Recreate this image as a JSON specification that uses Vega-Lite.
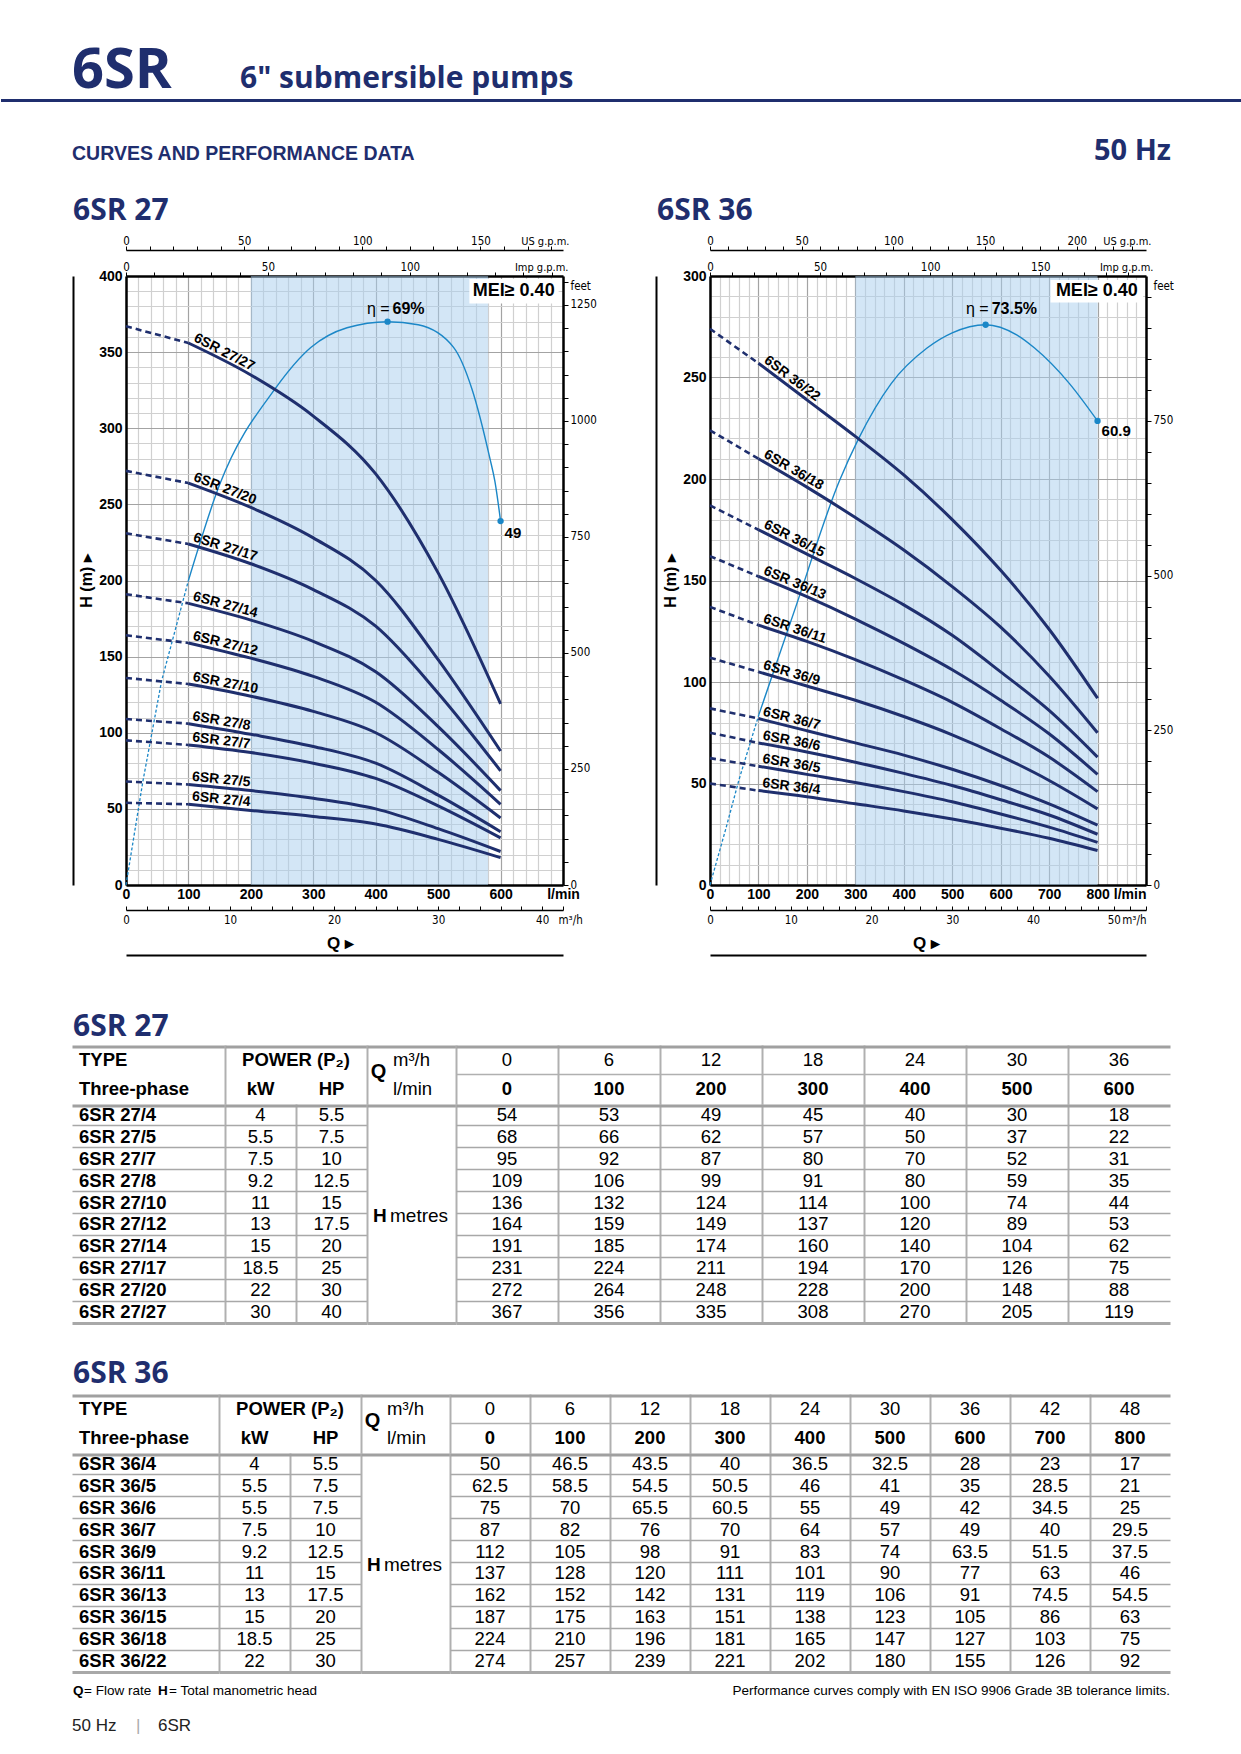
{
"$schema": "https://vega.github.io/schema/vega-lite/v6.json",
"padding": 0,
"background": "white",
"spacing": 0,
"resolve": {"scale": {"x": "independent", "y": "independent"}},
"config": {"view": {"stroke": null}, "concat": {"spacing": 0}, "font": "Liberation Sans"},
"datasets": {
"c27": [
{"t":"6SR 27/4","q":0,"h":54},{"t":"6SR 27/4","q":100,"h":53},{"t":"6SR 27/4","q":200,"h":49},{"t":"6SR 27/4","q":300,"h":45},{"t":"6SR 27/4","q":400,"h":40},{"t":"6SR 27/4","q":500,"h":30},{"t":"6SR 27/4","q":600,"h":18},
{"t":"6SR 27/5","q":0,"h":68},{"t":"6SR 27/5","q":100,"h":66},{"t":"6SR 27/5","q":200,"h":62},{"t":"6SR 27/5","q":300,"h":57},{"t":"6SR 27/5","q":400,"h":50},{"t":"6SR 27/5","q":500,"h":37},{"t":"6SR 27/5","q":600,"h":22},
{"t":"6SR 27/7","q":0,"h":95},{"t":"6SR 27/7","q":100,"h":92},{"t":"6SR 27/7","q":200,"h":87},{"t":"6SR 27/7","q":300,"h":80},{"t":"6SR 27/7","q":400,"h":70},{"t":"6SR 27/7","q":500,"h":52},{"t":"6SR 27/7","q":600,"h":31},
{"t":"6SR 27/8","q":0,"h":109},{"t":"6SR 27/8","q":100,"h":106},{"t":"6SR 27/8","q":200,"h":99},{"t":"6SR 27/8","q":300,"h":91},{"t":"6SR 27/8","q":400,"h":80},{"t":"6SR 27/8","q":500,"h":59},{"t":"6SR 27/8","q":600,"h":35},
{"t":"6SR 27/10","q":0,"h":136},{"t":"6SR 27/10","q":100,"h":132},{"t":"6SR 27/10","q":200,"h":124},{"t":"6SR 27/10","q":300,"h":114},{"t":"6SR 27/10","q":400,"h":100},{"t":"6SR 27/10","q":500,"h":74},{"t":"6SR 27/10","q":600,"h":44},
{"t":"6SR 27/12","q":0,"h":164},{"t":"6SR 27/12","q":100,"h":159},{"t":"6SR 27/12","q":200,"h":149},{"t":"6SR 27/12","q":300,"h":137},{"t":"6SR 27/12","q":400,"h":120},{"t":"6SR 27/12","q":500,"h":89},{"t":"6SR 27/12","q":600,"h":53},
{"t":"6SR 27/14","q":0,"h":191},{"t":"6SR 27/14","q":100,"h":185},{"t":"6SR 27/14","q":200,"h":174},{"t":"6SR 27/14","q":300,"h":160},{"t":"6SR 27/14","q":400,"h":140},{"t":"6SR 27/14","q":500,"h":104},{"t":"6SR 27/14","q":600,"h":62},
{"t":"6SR 27/17","q":0,"h":231},{"t":"6SR 27/17","q":100,"h":224},{"t":"6SR 27/17","q":200,"h":211},{"t":"6SR 27/17","q":300,"h":194},{"t":"6SR 27/17","q":400,"h":170},{"t":"6SR 27/17","q":500,"h":126},{"t":"6SR 27/17","q":600,"h":75},
{"t":"6SR 27/20","q":0,"h":272},{"t":"6SR 27/20","q":100,"h":264},{"t":"6SR 27/20","q":200,"h":248},{"t":"6SR 27/20","q":300,"h":228},{"t":"6SR 27/20","q":400,"h":200},{"t":"6SR 27/20","q":500,"h":148},{"t":"6SR 27/20","q":600,"h":88},
{"t":"6SR 27/27","q":0,"h":367},{"t":"6SR 27/27","q":100,"h":356},{"t":"6SR 27/27","q":200,"h":335},{"t":"6SR 27/27","q":300,"h":308},{"t":"6SR 27/27","q":400,"h":270},{"t":"6SR 27/27","q":500,"h":205},{"t":"6SR 27/27","q":600,"h":119}
],
"c36": [
{"t":"6SR 36/4","q":0,"h":50},{"t":"6SR 36/4","q":100,"h":46.5},{"t":"6SR 36/4","q":200,"h":43.5},{"t":"6SR 36/4","q":300,"h":40},{"t":"6SR 36/4","q":400,"h":36.5},{"t":"6SR 36/4","q":500,"h":32.5},{"t":"6SR 36/4","q":600,"h":28},{"t":"6SR 36/4","q":700,"h":23},{"t":"6SR 36/4","q":800,"h":17},
{"t":"6SR 36/5","q":0,"h":62.5},{"t":"6SR 36/5","q":100,"h":58.5},{"t":"6SR 36/5","q":200,"h":54.5},{"t":"6SR 36/5","q":300,"h":50.5},{"t":"6SR 36/5","q":400,"h":46},{"t":"6SR 36/5","q":500,"h":41},{"t":"6SR 36/5","q":600,"h":35},{"t":"6SR 36/5","q":700,"h":28.5},{"t":"6SR 36/5","q":800,"h":21},
{"t":"6SR 36/6","q":0,"h":75},{"t":"6SR 36/6","q":100,"h":70},{"t":"6SR 36/6","q":200,"h":65.5},{"t":"6SR 36/6","q":300,"h":60.5},{"t":"6SR 36/6","q":400,"h":55},{"t":"6SR 36/6","q":500,"h":49},{"t":"6SR 36/6","q":600,"h":42},{"t":"6SR 36/6","q":700,"h":34.5},{"t":"6SR 36/6","q":800,"h":25},
{"t":"6SR 36/7","q":0,"h":87},{"t":"6SR 36/7","q":100,"h":82},{"t":"6SR 36/7","q":200,"h":76},{"t":"6SR 36/7","q":300,"h":70},{"t":"6SR 36/7","q":400,"h":64},{"t":"6SR 36/7","q":500,"h":57},{"t":"6SR 36/7","q":600,"h":49},{"t":"6SR 36/7","q":700,"h":40},{"t":"6SR 36/7","q":800,"h":29.5},
{"t":"6SR 36/9","q":0,"h":112},{"t":"6SR 36/9","q":100,"h":105},{"t":"6SR 36/9","q":200,"h":98},{"t":"6SR 36/9","q":300,"h":91},{"t":"6SR 36/9","q":400,"h":83},{"t":"6SR 36/9","q":500,"h":74},{"t":"6SR 36/9","q":600,"h":63.5},{"t":"6SR 36/9","q":700,"h":51.5},{"t":"6SR 36/9","q":800,"h":37.5},
{"t":"6SR 36/11","q":0,"h":137},{"t":"6SR 36/11","q":100,"h":128},{"t":"6SR 36/11","q":200,"h":120},{"t":"6SR 36/11","q":300,"h":111},{"t":"6SR 36/11","q":400,"h":101},{"t":"6SR 36/11","q":500,"h":90},{"t":"6SR 36/11","q":600,"h":77},{"t":"6SR 36/11","q":700,"h":63},{"t":"6SR 36/11","q":800,"h":46},
{"t":"6SR 36/13","q":0,"h":162},{"t":"6SR 36/13","q":100,"h":152},{"t":"6SR 36/13","q":200,"h":142},{"t":"6SR 36/13","q":300,"h":131},{"t":"6SR 36/13","q":400,"h":119},{"t":"6SR 36/13","q":500,"h":106},{"t":"6SR 36/13","q":600,"h":91},{"t":"6SR 36/13","q":700,"h":74.5},{"t":"6SR 36/13","q":800,"h":54.5},
{"t":"6SR 36/15","q":0,"h":187},{"t":"6SR 36/15","q":100,"h":175},{"t":"6SR 36/15","q":200,"h":163},{"t":"6SR 36/15","q":300,"h":151},{"t":"6SR 36/15","q":400,"h":138},{"t":"6SR 36/15","q":500,"h":123},{"t":"6SR 36/15","q":600,"h":105},{"t":"6SR 36/15","q":700,"h":86},{"t":"6SR 36/15","q":800,"h":63},
{"t":"6SR 36/18","q":0,"h":224},{"t":"6SR 36/18","q":100,"h":210},{"t":"6SR 36/18","q":200,"h":196},{"t":"6SR 36/18","q":300,"h":181},{"t":"6SR 36/18","q":400,"h":165},{"t":"6SR 36/18","q":500,"h":147},{"t":"6SR 36/18","q":600,"h":127},{"t":"6SR 36/18","q":700,"h":103},{"t":"6SR 36/18","q":800,"h":75},
{"t":"6SR 36/22","q":0,"h":274},{"t":"6SR 36/22","q":100,"h":257},{"t":"6SR 36/22","q":200,"h":239},{"t":"6SR 36/22","q":300,"h":221},{"t":"6SR 36/22","q":400,"h":202},{"t":"6SR 36/22","q":500,"h":180},{"t":"6SR 36/22","q":600,"h":155},{"t":"6SR 36/22","q":700,"h":126},{"t":"6SR 36/22","q":800,"h":92}
],
"p27": [
{"t":"6SR 27/4","kw":4,"hp":5.5},{"t":"6SR 27/5","kw":5.5,"hp":7.5},{"t":"6SR 27/7","kw":7.5,"hp":10},{"t":"6SR 27/8","kw":9.2,"hp":12.5},{"t":"6SR 27/10","kw":11,"hp":15},
{"t":"6SR 27/12","kw":13,"hp":17.5},{"t":"6SR 27/14","kw":15,"hp":20},{"t":"6SR 27/17","kw":18.5,"hp":25},{"t":"6SR 27/20","kw":22,"hp":30},{"t":"6SR 27/27","kw":30,"hp":40}
],
"p36": [
{"t":"6SR 36/4","kw":4,"hp":5.5},{"t":"6SR 36/5","kw":5.5,"hp":7.5},{"t":"6SR 36/6","kw":5.5,"hp":7.5},{"t":"6SR 36/7","kw":7.5,"hp":10},{"t":"6SR 36/9","kw":9.2,"hp":12.5},
{"t":"6SR 36/11","kw":11,"hp":15},{"t":"6SR 36/13","kw":13,"hp":17.5},{"t":"6SR 36/15","kw":15,"hp":20},{"t":"6SR 36/18","kw":18.5,"hp":25},{"t":"6SR 36/22","kw":22,"hp":30}
],
"q27": [{"m3h":0,"q":0},{"m3h":6,"q":100},{"m3h":12,"q":200},{"m3h":18,"q":300},{"m3h":24,"q":400},{"m3h":30,"q":500},{"m3h":36,"q":600}],
"q36": [{"m3h":0,"q":0},{"m3h":6,"q":100},{"m3h":12,"q":200},{"m3h":18,"q":300},{"m3h":24,"q":400},{"m3h":30,"q":500},{"m3h":36,"q":600},{"m3h":42,"q":700},{"m3h":48,"q":800}],
"e27": [{"q":0,"y":0},{"q":27,"y":68},{"q":57,"y":134},{"q":100,"y":200},{"q":150,"y":263},{"q":239,"y":326},{"q":296,"y":353},{"q":354,"y":366},{"q":419,"y":370},{"q":468,"y":368},{"q":525,"y":353},{"q":554,"y":326},{"q":583,"y":280},{"q":591,"y":265},{"q":600,"y":239}],
"e36": [{"q":0,"y":0},{"q":33,"y":28},{"q":60,"y":52},{"q":101,"y":84},{"q":177,"y":137},{"q":267,"y":199},{"q":307,"y":220},{"q":374,"y":247},{"q":448,"y":264.5},{"q":500,"y":272},{"q":569,"y":276},{"q":633,"y":271},{"q":670,"y":264.5},{"q":742,"y":247},{"q":800,"y":228.6}],
"e27m": [{"q":419,"y":370,"kind":"peak","v":"69%"},{"q":600,"y":239,"kind":"end","v":"49"}],
"e36m": [{"q":569,"y":276,"kind":"peak","v":"73.5%"},{"q":800,"y":228.6,"kind":"end","v":"60.9"}]
},
"vconcat": [
{"hconcat":[
 {"width":71,"height":99,"data":{"values":[]},"mark":"point","view":{"fill":"white","stroke":null}},
 {"width":168,"height":99,"data":{"values":[{"s":"6SR"}]},"mark":{"type":"text","align":"left","baseline":"alphabetic","dy":-11,"font":"Open Sans","fontSize":56,"fontWeight":"bold","color":"#1f2e6e"},"encoding":{"x":{"datum":0,"type":"quantitative","scale":{"domain":[0,1]},"axis":null},"y":{"datum":0,"type":"quantitative","scale":{"domain":[0,1]},"axis":null},"text":{"field":"s","type":"nominal"}}},
 {"width":1002,"height":99,"data":{"values":[{"s":"6\" submersible pumps"}]},"mark":{"type":"text","align":"left","baseline":"alphabetic","dy":-11,"font":"Open Sans","fontSize":30,"fontWeight":"bold","color":"#1f2e6e"},"encoding":{"x":{"datum":0,"type":"quantitative","scale":{"domain":[0,1]},"axis":null},"y":{"datum":0,"type":"quantitative","scale":{"domain":[0,1]},"axis":null},"text":{"field":"s","type":"nominal"}}}
],"spacing":0,"bounds":"flush","resolve":{"scale":{"x":"independent","y":"independent"}}},
{"width":1241,"height":3,"data":{"values":[]},"mark":"point","view":{"fill":"#1f2e6e","stroke":null}},
{"hconcat":[
 {"width":71,"height":64,"data":{"values":[]},"mark":"point"},
 {"width":549,"height":64,"data":{"values":[{"s":"CURVES AND PERFORMANCE DATA"}]},"mark":{"type":"text","align":"left","baseline":"alphabetic","dy":-6,"font":"Liberation Sans","fontSize":19.5,"fontWeight":"bold","color":"#1f2e6e"},"encoding":{"x":{"datum":0,"type":"quantitative","scale":{"domain":[0,1]},"axis":null},"y":{"datum":0,"type":"quantitative","scale":{"domain":[0,1]},"axis":null},"text":{"field":"s","type":"nominal"}}},
 {"width":550,"height":64,"data":{"values":[{"s":"50 Hz"}]},"mark":{"type":"text","align":"right","baseline":"alphabetic","dy":-6,"font":"Open Sans","fontSize":29,"fontWeight":"bold","color":"#1f2e6e"},"encoding":{"x":{"datum":1,"type":"quantitative","scale":{"domain":[0,1]},"axis":null},"y":{"datum":0,"type":"quantitative","scale":{"domain":[0,1]},"axis":null},"text":{"field":"s","type":"nominal"}}}
],"spacing":0,"bounds":"flush","resolve":{"scale":{"x":"independent","y":"independent"}}},
{"hconcat":[
 {"width":72,"height":769,"layer":[
   {"data":{"values":[{}]},"mark":{"type":"point","size":1,"filled":true,"strokeWidth":0,"opacity":0},"encoding":{"x":{"datum":0,"type":"quantitative","scale":{"domain":[0,1]},"axis":null},"y":{"datum":1.14174,"type":"quantitative","scale":{"domain":[0,1]},"axis":null}}},
   {"data":{"values":[{"s":"6SR 27"}]},"mark":{"type":"text","align":"left","baseline":"alphabetic","dy":-9,"font":"Open Sans","fontSize":30,"fontWeight":"bold","color":"#1f2e6e"},"encoding":{"x":{"datum":1,"type":"quantitative"},"y":{"datum":0,"type":"quantitative"},"text":{"field":"s","type":"nominal"}}}
 ]},
 {"width":53,"height":769,"data":{"values":[{"s":"6SR 27"}]},"mark":{"type":"text","align":"left","baseline":"alphabetic","dy":-56,"font":"Open Sans","fontSize":30,"fontWeight":"bold","color":"#1f2e6e"},"encoding":{"x":{"datum":0,"type":"quantitative","scale":{"domain":[0,1]},"axis":null},"y":{"datum":1,"type":"quantitative","scale":{"domain":[0,1]},"axis":null},"text":{"field":"s","type":"nominal"}}},
 {"width":437,"height":609,
  "resolve":{"scale":{"x":"independent","y":"independent"},"axis":{"x":"independent","y":"independent"}},
  "layer":[
   {"layer":[
    {"data":{"values":[{"a":200,"b":580}]},"mark":{"type":"rect","fill":"#a8cdee","opacity":0.5},"encoding":{"x":{"field":"a","type":"quantitative"},"x2":{"field":"b"},"y":{"datum":0,"type":"quantitative"},"y2":{"datum":400}}},
    {"data":{"name":"e27"},"transform":[{"filter":"datum.q <= 100"}],"mark":{"type":"line","color":"#1b87c7","strokeWidth":1.3,"strokeDash":[3,2]},"encoding":{"x":{"field":"q","type":"quantitative"},"y":{"field":"y","type":"quantitative"}}},
    {"data":{"name":"e27"},"transform":[{"filter":"datum.q >= 100"}],"mark":{"type":"line","color":"#1b87c7","strokeWidth":1.4,"interpolate":"monotone"},"encoding":{"x":{"field":"q","type":"quantitative"},"y":{"field":"y","type":"quantitative"}}},
    {"data":{"name":"c27"},"transform":[{"filter":"datum.q <= 100"}],"mark":{"type":"line","color":"#1f2f6e","strokeWidth":2.6,"strokeDash":[6,4]},
     "encoding":{
      "x":{"field":"q","type":"quantitative","scale":{"domain":[0,700],"nice":false},"axis":{"orient":"bottom","tickCount":35,"labelExpr":"datum.value == 700 ? 'l/min' : (datum.value % 100 == 0 ? datum.label : '')","labelFlush":false,"labelOverlap":false,"ticks":false,"labelPadding":2,"labelBaseline":"top","labelFont":"Liberation Sans","labelFontSize":14,"labelFontWeight":"bold","labelColor":"black","grid":true,"gridColor":{"condition":{"test":"datum.value % 100 == 0","value":"#a3a3a3"},"value":"#d0d0d0"},"gridWidth":1.2,"domainColor":"black","domainWidth":2.5,"title":null}},
      "y":{"field":"h","type":"quantitative","scale":{"domain":[0,400],"nice":false},"axis":{"orient":"left","tickCount":40,"labelExpr":"datum.value % 50 == 0 ? datum.label : ''","labelFlush":false,"labelOverlap":false,"ticks":false,"labelPadding":4,"labelFont":"Liberation Sans","labelFontSize":14,"labelFontWeight":"bold","labelColor":"black","grid":true,"gridColor":{"condition":{"test":"datum.value % 50 == 0","value":"#a3a3a3"},"value":"#d0d0d0"},"gridWidth":1.2,"domainColor":"black","domainWidth":2.5,"title":"H  (m)  ▸","titleFont":"Liberation Sans","titleFontSize":16,"titleFontWeight":"bold","titleColor":"black","titlePadding":4}},
      "detail":{"field":"t"}}},
    {"data":{"name":"c27"},"transform":[{"filter":"datum.q >= 100"}],"mark":{"type":"line","color":"#1f2f6e","strokeWidth":3,"interpolate":"monotone"},"encoding":{"x":{"field":"q","type":"quantitative"},"y":{"field":"h","type":"quantitative"},"detail":{"field":"t"}}},
    {"data":{"name":"c27"},"transform":[{"window":[{"op":"lead","field":"h","as":"hn"}],"groupby":["t"],"sort":[{"field":"q"}]},{"filter":"datum.q == 100"},{"calculate":"atan((datum.h - datum.hn) * 1.5225 / (100 * 0.62429)) * 180 / PI","as":"ang"}],
     "mark":{"type":"text","align":"left","baseline":"alphabetic","dx":3,"dy":-4,"fontSize":14,"fontWeight":"bold","color":"black"},
     "encoding":{"x":{"field":"q","type":"quantitative"},"y":{"field":"h","type":"quantitative"},"text":{"field":"t","type":"nominal"},"angle":{"field":"ang","type":"quantitative","scale":null}}},
    {"data":{"name":"e27m"},"mark":{"type":"circle","color":"#1b87c7","size":40,"opacity":1},"encoding":{"x":{"field":"q","type":"quantitative"},"y":{"field":"y","type":"quantitative"}}},
    {"data":{"name":"e27m"},"transform":[{"filter":"datum.kind == 'peak'"}],"mark":{"type":"text","text":"η =","align":"right","baseline":"alphabetic","dx":2,"dy":-8,"fontSize":16,"color":"black"},"encoding":{"x":{"field":"q","type":"quantitative"},"y":{"field":"y","type":"quantitative"}}},
    {"data":{"name":"e27m"},"transform":[{"filter":"datum.kind == 'peak'"}],"mark":{"type":"text","align":"left","baseline":"alphabetic","dx":5,"dy":-8,"fontSize":16,"fontWeight":"bold","color":"black"},"encoding":{"x":{"field":"q","type":"quantitative"},"y":{"field":"y","type":"quantitative"},"text":{"field":"v","type":"nominal"}}},
    {"data":{"name":"e27m"},"transform":[{"filter":"datum.kind == 'end'"}],"mark":{"type":"text","align":"left","baseline":"alphabetic","dx":4,"dy":17,"fontSize":15,"fontWeight":"bold","color":"black"},"encoding":{"x":{"field":"q","type":"quantitative"},"y":{"field":"y","type":"quantitative"},"text":{"field":"v","type":"nominal"}}},
    {"data":{"values":[{}]},"mark":{"type":"rect","fill":"white"},"encoding":{"x":{"datum":550,"type":"quantitative"},"x2":{"datum":693},"y":{"datum":382,"type":"quantitative"},"y2":{"datum":398}}},
    {"data":{"values":[{}]},"mark":{"type":"text","text":"MEI≥ 0.40","fontSize":18,"fontWeight":"bold","color":"black"},"encoding":{"x":{"datum":621,"type":"quantitative"},"y":{"datum":390,"type":"quantitative"}}}
   ]},
   {"data":{"name":"q27"},"mark":{"type":"point","opacity":0},"encoding":{"y":{"datum":0,"type":"quantitative","scale":{"domain":[0,1]},"axis":null},"x":{"field":"m3h","type":"quantitative","scale":{"domain":[0,42],"nice":false},"axis":{"orient":"bottom","offset":25,"tickCount":21,"labelExpr":"datum.value == 42 ? 'm³/h' : (datum.value % 10 == 0 ? datum.label : '')","labelAlign":{"condition":{"test":"datum.value == 42","value":"left"},"value":"center"},"labelOffset":{"condition":{"test":"datum.value == 42","value":-5},"value":0},"labelFlush":false,"labelOverlap":false,"tickSize":-4,"tickColor":"black","labelPadding":8.5,"labelBaseline":"top","labelFont":"DejaVu Sans Condensed, Liberation Sans, sans-serif","labelFontSize":11.5,"labelColor":"black","domainColor":"black","domainWidth":1.5,"grid":false,"title":null}}}},
   {"data":{"values":[{}]},"mark":{"type":"point","opacity":0},"encoding":{"y":{"datum":0,"type":"quantitative","scale":{"domain":[0,1]},"axis":null},"x":{"datum":0,"type":"quantitative","scale":{"domain":[0,153.98],"nice":false},"axis":{"orient":"top","offset":0,"tickCount":15,"labelExpr":"datum.value % 50 == 0 && datum.value < 150 ? datum.label : ''","labelFlush":false,"labelOverlap":false,"tickSize":4,"tickColor":"black","labelPadding":2,"labelBaseline":"alphabetic","labelFont":"DejaVu Sans Condensed, Liberation Sans, sans-serif","labelFontSize":11.5,"labelColor":"black","domainColor":"black","domainWidth":2.5,"grid":false,"title":"Imp g.p.m.","titleX":442,"titleY":-6,"titleAlign":"right","titleBaseline":"alphabetic","titleAngle":0,"titleFont":"DejaVu Sans Condensed, Liberation Sans, sans-serif","titleFontSize":11,"titleFontWeight":"normal","titleColor":"black"}}}},
   {"data":{"values":[{}]},"mark":{"type":"point","opacity":0},"encoding":{"y":{"datum":0,"type":"quantitative","scale":{"domain":[0,1]},"axis":null},"x":{"datum":0,"type":"quantitative","scale":{"domain":[0,184.92],"nice":false},"axis":{"orient":"top","offset":26,"tickCount":18,"labelExpr":"datum.value % 50 == 0 ? datum.label : ''","labelFlush":false,"labelOverlap":false,"tickSize":4,"tickColor":"black","labelPadding":2,"labelBaseline":"alphabetic","labelFont":"DejaVu Sans Condensed, Liberation Sans, sans-serif","labelFontSize":11.5,"labelColor":"black","domainColor":"black","domainWidth":1.5,"grid":false,"title":"US g.p.m.","titleX":443,"titleY":-6,"titleAlign":"right","titleBaseline":"alphabetic","titleAngle":0,"titleFont":"DejaVu Sans Condensed, Liberation Sans, sans-serif","titleFontSize":11,"titleFontWeight":"normal","titleColor":"black"}}}},
   {"data":{"values":[{}]},"mark":{"type":"point","opacity":0},"encoding":{"y":{"datum":0,"type":"quantitative","scale":{"domain":[0,1]},"axis":null},"x":{"datum":0,"type":"quantitative","scale":{"domain":[0,1]},"axis":{"orient":"bottom","offset":70,"ticks":false,"labels":false,"grid":false,"domainColor":"black","domainWidth":2,"title":"Q  ▸","titleX":214,"titleY":-7,"titleAlign":"center","titleBaseline":"alphabetic","titleAngle":0,"titleFont":"Liberation Sans","titleFontSize":17,"titleFontWeight":"bold","titleColor":"black"}}}},
   {"data":{"values":[{}]},"mark":{"type":"point","opacity":0},"encoding":{"x":{"datum":0,"type":"quantitative","scale":{"domain":[0,1]},"axis":null},"y":{"datum":0,"type":"quantitative","scale":{"domain":[0,1312.34],"nice":false},"axis":{"orient":"right","tickCount":26,"format":"d","labelExpr":"datum.value % 250 == 0 ? datum.label : ''","labelFlush":false,"labelOverlap":false,"tickSize":5,"tickColor":"black","labelPadding":2,"labelFont":"DejaVu Sans Condensed, Liberation Sans, sans-serif","labelFontSize":11.5,"labelColor":"black","domainColor":"black","domainWidth":2.5,"grid":false,"title":"feet","titleAngle":0,"titleX":7,"titleY":13,"titleAlign":"left","titleBaseline":"alphabetic","titleFont":"DejaVu Sans Condensed, Liberation Sans, sans-serif","titleFontSize":11.5,"titleFontWeight":"normal","titleColor":"black"}}}},
   {"data":{"values":[{}]},"mark":{"type":"point","opacity":0},"encoding":{"x":{"datum":0,"type":"quantitative","scale":{"domain":[0,1]},"axis":null},"y":{"datum":0,"type":"quantitative","scale":{"domain":[0,1]},"axis":{"orient":"left","offset":53,"ticks":false,"labels":false,"grid":false,"domainColor":"black","domainWidth":2,"title":null}}}}
  ]},
 {"width":94,"height":609,"data":{"values":[]},"mark":"point"},
 {"width":53,"height":609,"data":{"values":[{"s":"6SR 36"}]},"mark":{"type":"text","align":"left","baseline":"alphabetic","dy":-56,"font":"Open Sans","fontSize":30,"fontWeight":"bold","color":"#1f2e6e"},"encoding":{"x":{"datum":0,"type":"quantitative","scale":{"domain":[0,1]},"axis":null},"y":{"datum":1,"type":"quantitative","scale":{"domain":[0,1]},"axis":null},"text":{"field":"s","type":"nominal"}}},
 {"width":436,"height":609,
  "resolve":{"scale":{"x":"independent","y":"independent"},"axis":{"x":"independent","y":"independent"}},
  "layer":[
   {"layer":[
    {"data":{"values":[{"a":300,"b":800}]},"mark":{"type":"rect","fill":"#a8cdee","opacity":0.5},"encoding":{"x":{"field":"a","type":"quantitative"},"x2":{"field":"b"},"y":{"datum":0,"type":"quantitative"},"y2":{"datum":300}}},
    {"data":{"name":"e36"},"transform":[{"filter":"datum.q <= 101"}],"mark":{"type":"line","color":"#1b87c7","strokeWidth":1.3,"strokeDash":[3,2]},"encoding":{"x":{"field":"q","type":"quantitative"},"y":{"field":"y","type":"quantitative"}}},
    {"data":{"name":"e36"},"transform":[{"filter":"datum.q >= 101"}],"mark":{"type":"line","color":"#1b87c7","strokeWidth":1.4,"interpolate":"monotone"},"encoding":{"x":{"field":"q","type":"quantitative"},"y":{"field":"y","type":"quantitative"}}},
    {"data":{"name":"c36"},"transform":[{"filter":"datum.q <= 100"}],"mark":{"type":"line","color":"#1f2f6e","strokeWidth":2.6,"strokeDash":[6,4]},
     "encoding":{
      "x":{"field":"q","type":"quantitative","scale":{"domain":[0,900],"nice":false},"axis":{"orient":"bottom","tickCount":45,"labelExpr":"datum.value == 900 ? 'l/min' : (datum.value % 100 == 0 ? datum.label : '')","labelAlign":{"condition":{"test":"datum.value == 900","value":"right"},"value":"center"},"labelFlush":false,"labelOverlap":false,"ticks":false,"labelPadding":2,"labelBaseline":"top","labelFont":"Liberation Sans","labelFontSize":14,"labelFontWeight":"bold","labelColor":"black","grid":true,"gridColor":{"condition":{"test":"datum.value % 100 == 0","value":"#a3a3a3"},"value":"#d0d0d0"},"gridWidth":1.2,"domainColor":"black","domainWidth":2.5,"title":null}},
      "y":{"field":"h","type":"quantitative","scale":{"domain":[0,300],"nice":false},"axis":{"orient":"left","tickCount":30,"labelExpr":"datum.value % 50 == 0 ? datum.label : ''","labelFlush":false,"labelOverlap":false,"ticks":false,"labelPadding":4,"labelFont":"Liberation Sans","labelFontSize":14,"labelFontWeight":"bold","labelColor":"black","grid":true,"gridColor":{"condition":{"test":"datum.value % 50 == 0","value":"#a3a3a3"},"value":"#d0d0d0"},"gridWidth":1.2,"domainColor":"black","domainWidth":2.5,"title":"H  (m)  ▸","titleFont":"Liberation Sans","titleFontSize":16,"titleFontWeight":"bold","titleColor":"black","titlePadding":4}},
      "detail":{"field":"t"}}},
    {"data":{"name":"c36"},"transform":[{"filter":"datum.q >= 100"}],"mark":{"type":"line","color":"#1f2f6e","strokeWidth":3,"interpolate":"monotone"},"encoding":{"x":{"field":"q","type":"quantitative"},"y":{"field":"h","type":"quantitative"},"detail":{"field":"t"}}},
    {"data":{"name":"c36"},"transform":[{"window":[{"op":"lead","field":"h","as":"hn"}],"groupby":["t"],"sort":[{"field":"q"}]},{"filter":"datum.q == 100"},{"calculate":"atan((datum.h - datum.hn) * 2.03 / (100 * 0.48444)) * 180 / PI","as":"ang"}],
     "mark":{"type":"text","align":"left","baseline":"alphabetic","dx":3,"dy":-4,"fontSize":14,"fontWeight":"bold","color":"black"},
     "encoding":{"x":{"field":"q","type":"quantitative"},"y":{"field":"h","type":"quantitative"},"text":{"field":"t","type":"nominal"},"angle":{"field":"ang","type":"quantitative","scale":null}}},
    {"data":{"name":"e36m"},"mark":{"type":"circle","color":"#1b87c7","size":40,"opacity":1},"encoding":{"x":{"field":"q","type":"quantitative"},"y":{"field":"y","type":"quantitative"}}},
    {"data":{"name":"e36m"},"transform":[{"filter":"datum.kind == 'peak'"}],"mark":{"type":"text","text":"η =","align":"right","baseline":"alphabetic","dx":3,"dy":-11,"fontSize":16,"color":"black"},"encoding":{"x":{"field":"q","type":"quantitative"},"y":{"field":"y","type":"quantitative"}}},
    {"data":{"name":"e36m"},"transform":[{"filter":"datum.kind == 'peak'"}],"mark":{"type":"text","align":"left","baseline":"alphabetic","dx":6,"dy":-11,"fontSize":16,"fontWeight":"bold","color":"black"},"encoding":{"x":{"field":"q","type":"quantitative"},"y":{"field":"y","type":"quantitative"},"text":{"field":"v","type":"nominal"}}},
    {"data":{"name":"e36m"},"transform":[{"filter":"datum.kind == 'end'"}],"mark":{"type":"text","align":"left","baseline":"alphabetic","dx":4,"dy":15,"fontSize":15,"fontWeight":"bold","color":"black"},"encoding":{"x":{"field":"q","type":"quantitative"},"y":{"field":"y","type":"quantitative"},"text":{"field":"v","type":"nominal"}}},
    {"data":{"values":[{}]},"mark":{"type":"rect","fill":"white"},"encoding":{"x":{"datum":703,"type":"quantitative"},"x2":{"datum":894},"y":{"datum":287,"type":"quantitative"},"y2":{"datum":298}}},
    {"data":{"values":[{}]},"mark":{"type":"text","text":"MEI≥ 0.40","fontSize":18,"fontWeight":"bold","color":"black"},"encoding":{"x":{"datum":798.5,"type":"quantitative"},"y":{"datum":292.5,"type":"quantitative"}}}
   ]},
   {"data":{"name":"q36"},"mark":{"type":"point","opacity":0},"encoding":{"y":{"datum":0,"type":"quantitative","scale":{"domain":[0,1]},"axis":null},"x":{"field":"m3h","type":"quantitative","scale":{"domain":[0,54],"nice":false},"axis":{"orient":"bottom","offset":25,"tickCount":27,"labelExpr":"datum.value == 54 ? 'm³/h' : (datum.value % 10 == 0 ? datum.label : '')","labelAlign":{"condition":{"test":"datum.value == 54","value":"right"},"value":"center"},"labelFlush":false,"labelOverlap":false,"tickSize":-4,"tickColor":"black","labelPadding":8.5,"labelBaseline":"top","labelFont":"DejaVu Sans Condensed, Liberation Sans, sans-serif","labelFontSize":11.5,"labelColor":"black","domainColor":"black","domainWidth":1.5,"grid":false,"title":null}}}},
   {"data":{"values":[{}]},"mark":{"type":"point","opacity":0},"encoding":{"y":{"datum":0,"type":"quantitative","scale":{"domain":[0,1]},"axis":null},"x":{"datum":0,"type":"quantitative","scale":{"domain":[0,197.98],"nice":false},"axis":{"orient":"top","offset":0,"tickCount":20,"labelExpr":"datum.value % 50 == 0 ? datum.label : ''","labelFlush":false,"labelOverlap":false,"tickSize":4,"tickColor":"black","labelPadding":2,"labelBaseline":"alphabetic","labelFont":"DejaVu Sans Condensed, Liberation Sans, sans-serif","labelFontSize":11.5,"labelColor":"black","domainColor":"black","domainWidth":2.5,"grid":false,"title":"Imp g.p.m.","titleX":443,"titleY":-6,"titleAlign":"right","titleBaseline":"alphabetic","titleAngle":0,"titleFont":"DejaVu Sans Condensed, Liberation Sans, sans-serif","titleFontSize":11,"titleFontWeight":"normal","titleColor":"black"}}}},
   {"data":{"values":[{}]},"mark":{"type":"point","opacity":0},"encoding":{"y":{"datum":0,"type":"quantitative","scale":{"domain":[0,1]},"axis":null},"x":{"datum":0,"type":"quantitative","scale":{"domain":[0,237.75],"nice":false},"axis":{"orient":"top","offset":26,"tickCount":24,"labelExpr":"datum.value % 50 == 0 ? datum.label : ''","labelFlush":false,"labelOverlap":false,"tickSize":4,"tickColor":"black","labelPadding":2,"labelBaseline":"alphabetic","labelFont":"DejaVu Sans Condensed, Liberation Sans, sans-serif","labelFontSize":11.5,"labelColor":"black","domainColor":"black","domainWidth":1.5,"grid":false,"title":"US g.p.m.","titleX":441,"titleY":-6,"titleAlign":"right","titleBaseline":"alphabetic","titleAngle":0,"titleFont":"DejaVu Sans Condensed, Liberation Sans, sans-serif","titleFontSize":11,"titleFontWeight":"normal","titleColor":"black"}}}},
   {"data":{"values":[{}]},"mark":{"type":"point","opacity":0},"encoding":{"y":{"datum":0,"type":"quantitative","scale":{"domain":[0,1]},"axis":null},"x":{"datum":0,"type":"quantitative","scale":{"domain":[0,1]},"axis":{"orient":"bottom","offset":70,"ticks":false,"labels":false,"grid":false,"domainColor":"black","domainWidth":2,"title":"Q  ▸","titleX":216,"titleY":-7,"titleAlign":"center","titleBaseline":"alphabetic","titleAngle":0,"titleFont":"Liberation Sans","titleFontSize":17,"titleFontWeight":"bold","titleColor":"black"}}}},
   {"data":{"values":[{}]},"mark":{"type":"point","opacity":0},"encoding":{"x":{"datum":0,"type":"quantitative","scale":{"domain":[0,1]},"axis":null},"y":{"datum":0,"type":"quantitative","scale":{"domain":[0,984.25],"nice":false},"axis":{"orient":"right","tickCount":20,"format":"d","labelExpr":"datum.value % 250 == 0 ? datum.label : ''","labelFlush":false,"labelOverlap":false,"tickSize":5,"tickColor":"black","labelPadding":2,"labelFont":"DejaVu Sans Condensed, Liberation Sans, sans-serif","labelFontSize":11.5,"labelColor":"black","domainColor":"black","domainWidth":2.5,"grid":false,"title":"feet","titleAngle":0,"titleX":7,"titleY":13,"titleAlign":"left","titleBaseline":"alphabetic","titleFont":"DejaVu Sans Condensed, Liberation Sans, sans-serif","titleFontSize":11.5,"titleFontWeight":"normal","titleColor":"black"}}}},
   {"data":{"values":[{}]},"mark":{"type":"point","opacity":0},"encoding":{"x":{"datum":0,"type":"quantitative","scale":{"domain":[0,1]},"axis":null},"y":{"datum":0,"type":"quantitative","scale":{"domain":[0,1]},"axis":{"orient":"left","offset":54,"ticks":false,"labels":false,"grid":false,"domainColor":"black","domainWidth":2,"title":null}}}}
  ]}
],"spacing":0,"bounds":"flush","resolve":{"scale":{"x":"independent","y":"independent"}}},
{"hconcat":[
 {"width":71,"height":59,"data":{"values":[]},"mark":"point"},
 {"width":153,"height":59,
  "data":{"values":[{"r":"r1","s":"TYPE"},{"r":"r2","s":"Three-phase"}]},
  "mark":{"type":"text","align":"left","dx":7,"fontSize":18.5,"fontWeight":"bold","color":"black"},
  "encoding":{"x":{"datum":0,"type":"quantitative","scale":{"domain":[0,1]},"axis":{"orient":"top","offset":-1.5,"domainColor":"#a0a0a0","domainWidth":3,"ticks":false,"labels":false,"grid":false,"title":null}},
   "y":{"field":"r","type":"nominal","scale":{"type":"band","domain":["r1","r2"],"padding":0},"axis":null},
   "text":{"field":"s","type":"nominal"}}},
 {"width":142,"height":59,"layer":[
  {"data":{"values":[{"s":"POWER (P₂)"}]},"mark":{"type":"text","fontSize":18.5,"fontWeight":"bold","color":"black"},"encoding":{"y":{"datum":"r1","type":"nominal","scale":{"type":"band","domain":["r1","r2"],"padding":0},"axis":null},"text":{"field":"s","type":"nominal"}}},
  {"data":{"values":[{"c":"kW"},{"c":"HP"}]},"mark":{"type":"text","fontSize":18.5,"fontWeight":"bold","color":"black"},"encoding":{"x":{"field":"c","type":"nominal","scale":{"type":"band","domain":["kW","HP"],"padding":0},"axis":{"orient":"top","offset":-1.5,"domainColor":"#a0a0a0","domainWidth":3,"ticks":false,"labels":false,"grid":true,"values":["kW"],"bandPosition":0,"gridColor":"#b0b0b0","gridWidth":2,"title":null}},"y":{"datum":"r2","type":"nominal"},"text":{"field":"c","type":"nominal"}}}
 ]},
 {"width":89,"height":59,"layer":[
  {"data":{"values":[{"s":"Q"}]},"mark":{"type":"text","dx":11.5,"dy":-3,"fontSize":20,"fontWeight":"bold","color":"black"},"encoding":{"x":{"datum":0,"type":"quantitative","scale":{"domain":[0,1]},"axis":{"orient":"top","offset":-1.5,"domainColor":"#a0a0a0","domainWidth":3,"ticks":false,"labels":false,"grid":true,"values":[0],"gridColor":"#b0b0b0","gridWidth":2,"title":null}},"text":{"field":"s","type":"nominal"}}},
  {"data":{"values":[{"r":"r1","s":"m³/h"},{"r":"r2","s":"l/min"}]},"mark":{"type":"text","align":"left","dx":26,"fontSize":18.5,"color":"black"},"encoding":{"x":{"datum":0,"type":"quantitative"},"y":{"field":"r","type":"nominal","scale":{"type":"band","domain":["r1","r2"],"padding":0},"axis":null},"text":{"field":"s","type":"nominal"}}}
 ]},
 {"width":714,"height":59,"data":{"name":"q27"},"layer":[
  {"mark":{"type":"text","fontSize":18.5,"color":"black"},"encoding":{"x":{"field":"q","type":"ordinal","scale":{"type":"band","padding":0},"axis":{"orient":"top","offset":-1.5,"domainColor":"#a0a0a0","domainWidth":3,"ticks":false,"labels":false,"grid":true,"bandPosition":0,"gridColor":"#b0b0b0","gridWidth":2,"title":null}},"y":{"datum":"r1","type":"nominal","scale":{"type":"band","domain":["r1","r2"],"padding":0},"axis":{"grid":true,"values":["r2"],"bandPosition":0,"gridColor":"#b0b0b0","gridWidth":1.5,"domain":false,"ticks":false,"labels":false,"title":null}},"text":{"field":"m3h","type":"nominal"}}},
  {"mark":{"type":"text","fontSize":18.5,"fontWeight":"bold","color":"black"},"encoding":{"x":{"field":"q","type":"ordinal"},"y":{"datum":"r2","type":"nominal"},"text":{"field":"q","type":"nominal"}}}
 ]}
],"spacing":0,"bounds":"flush","resolve":{"scale":{"x":"independent","y":"independent"}}},
{"hconcat":[
 {"width":71,"height":290,"data":{"values":[{"s":"6SR 36"}]},"mark":{"type":"text","align":"left","baseline":"alphabetic","dx":1,"dy":-11,"font":"Open Sans","fontSize":30,"fontWeight":"bold","color":"#1f2e6e"},"encoding":{"x":{"datum":1,"type":"quantitative","scale":{"domain":[0,1]},"axis":null},"y":{"datum":0,"type":"quantitative","scale":{"domain":[0,1]},"axis":null},"text":{"field":"s","type":"nominal"}}},
 {"width":153,"height":219,"data":{"name":"p27"},"mark":{"type":"text","align":"left","dx":7,"fontSize":18.5,"fontWeight":"bold","color":"black"},
  "encoding":{"x":{"datum":0,"type":"quantitative","scale":{"domain":[0,1]},"axis":{"orient":"top","offset":-1.5,"domainColor":"#a0a0a0","domainWidth":3,"ticks":false,"labels":false,"grid":false,"title":null}},
   "y":{"field":"t","type":"nominal","sort":null,"scale":{"type":"band","padding":0},"axis":{"grid":true,"bandPosition":1,"gridColor":"#a8a8a8","gridWidth":{"condition":{"test":"datum.value === '6SR 27/27'","value":3},"value":1.5},"domain":false,"ticks":false,"labels":false,"title":null}},
   "text":{"field":"t","type":"nominal"}}},
 {"width":142,"height":219,"data":{"name":"p27"},
  "encoding":{"y":{"field":"t","type":"nominal","sort":null,"scale":{"type":"band","padding":0},"axis":{"grid":true,"bandPosition":1,"gridColor":"#a8a8a8","gridWidth":{"condition":{"test":"datum.value === '6SR 27/27'","value":3},"value":1.5},"domain":false,"ticks":false,"labels":false,"title":null}}},
  "layer":[
   {"mark":{"type":"text","fontSize":18.5,"color":"black"},"encoding":{"x":{"datum":"kW","type":"nominal","scale":{"type":"band","domain":["kW","HP"],"padding":0},"axis":{"orient":"top","offset":-1.5,"domainColor":"#a0a0a0","domainWidth":3,"ticks":false,"labels":false,"grid":true,"values":["kW","HP"],"bandPosition":0,"gridColor":"#b0b0b0","gridWidth":2,"title":null}},"text":{"field":"kw","type":"nominal"}}},
   {"mark":{"type":"text","fontSize":18.5,"color":"black"},"encoding":{"x":{"datum":"HP","type":"nominal"},"text":{"field":"hp","type":"nominal"}}}
  ]},
 {"width":89,"height":219,"layer":[
  {"data":{"values":[{"s":"H"}]},"mark":{"type":"text","align":"left","dx":6,"dy":2,"fontSize":19,"fontWeight":"bold","color":"black"},"encoding":{"x":{"datum":0,"type":"quantitative","scale":{"domain":[0,1]},"axis":{"orient":"top","offset":-1.5,"domainColor":"#a0a0a0","domainWidth":3,"ticks":false,"labels":false,"grid":true,"values":[0],"gridColor":"#b0b0b0","gridWidth":2,"title":null}},"y":{"datum":"b","type":"nominal","scale":{"type":"band","domain":["b"],"padding":0},"axis":{"grid":true,"bandPosition":1,"gridColor":"#a8a8a8","gridWidth":3,"domain":false,"ticks":false,"labels":false,"title":null}},"text":{"field":"s","type":"nominal"}}},
  {"data":{"values":[{"s":"metres"}]},"mark":{"type":"text","align":"left","dx":23,"dy":2,"fontSize":19,"color":"black"},"encoding":{"x":{"datum":0,"type":"quantitative"},"y":{"datum":"b","type":"nominal"},"text":{"field":"s","type":"nominal"}}}
 ]},
 {"width":714,"height":219,"data":{"name":"c27"},"mark":{"type":"text","fontSize":18.5,"color":"black"},
  "encoding":{"x":{"field":"q","type":"ordinal","scale":{"type":"band","padding":0},"axis":{"orient":"top","offset":-1.5,"domainColor":"#a0a0a0","domainWidth":3,"ticks":false,"labels":false,"grid":true,"bandPosition":0,"gridColor":"#b0b0b0","gridWidth":2,"title":null}},
   "y":{"field":"t","type":"nominal","sort":null,"scale":{"type":"band","padding":0},"axis":{"grid":true,"bandPosition":1,"gridColor":"#a8a8a8","gridWidth":{"condition":{"test":"datum.value === '6SR 27/27'","value":3},"value":1.5},"domain":false,"ticks":false,"labels":false,"title":null}},
   "text":{"field":"h","type":"nominal"}}}
],"spacing":0,"bounds":"flush","resolve":{"scale":{"x":"independent","y":"independent"}}},
{"hconcat":[
 {"width":71,"height":59,"data":{"values":[]},"mark":"point"},
 {"width":147,"height":59,
  "data":{"values":[{"r":"r1","s":"TYPE"},{"r":"r2","s":"Three-phase"}]},
  "mark":{"type":"text","align":"left","dx":7,"fontSize":18.5,"fontWeight":"bold","color":"black"},
  "encoding":{"x":{"datum":0,"type":"quantitative","scale":{"domain":[0,1]},"axis":{"orient":"top","offset":-1.5,"domainColor":"#a0a0a0","domainWidth":3,"ticks":false,"labels":false,"grid":false,"title":null}},
   "y":{"field":"r","type":"nominal","scale":{"type":"band","domain":["r1","r2"],"padding":0},"axis":null},
   "text":{"field":"s","type":"nominal"}}},
 {"width":142,"height":59,"layer":[
  {"data":{"values":[{"s":"POWER (P₂)"}]},"mark":{"type":"text","fontSize":18.5,"fontWeight":"bold","color":"black"},"encoding":{"y":{"datum":"r1","type":"nominal","scale":{"type":"band","domain":["r1","r2"],"padding":0},"axis":null},"text":{"field":"s","type":"nominal"}}},
  {"data":{"values":[{"c":"kW"},{"c":"HP"}]},"mark":{"type":"text","fontSize":18.5,"fontWeight":"bold","color":"black"},"encoding":{"x":{"field":"c","type":"nominal","scale":{"type":"band","domain":["kW","HP"],"padding":0},"axis":{"orient":"top","offset":-1.5,"domainColor":"#a0a0a0","domainWidth":3,"ticks":false,"labels":false,"grid":true,"values":["kW"],"bandPosition":0,"gridColor":"#b0b0b0","gridWidth":2,"title":null}},"y":{"datum":"r2","type":"nominal"},"text":{"field":"c","type":"nominal"}}}
 ]},
 {"width":89,"height":59,"layer":[
  {"data":{"values":[{"s":"Q"}]},"mark":{"type":"text","dx":11.5,"dy":-3,"fontSize":20,"fontWeight":"bold","color":"black"},"encoding":{"x":{"datum":0,"type":"quantitative","scale":{"domain":[0,1]},"axis":{"orient":"top","offset":-1.5,"domainColor":"#a0a0a0","domainWidth":3,"ticks":false,"labels":false,"grid":true,"values":[0],"gridColor":"#b0b0b0","gridWidth":2,"title":null}},"text":{"field":"s","type":"nominal"}}},
  {"data":{"values":[{"r":"r1","s":"m³/h"},{"r":"r2","s":"l/min"}]},"mark":{"type":"text","align":"left","dx":26,"fontSize":18.5,"color":"black"},"encoding":{"x":{"datum":0,"type":"quantitative"},"y":{"field":"r","type":"nominal","scale":{"type":"band","domain":["r1","r2"],"padding":0},"axis":null},"text":{"field":"s","type":"nominal"}}}
 ]},
 {"width":720,"height":59,"data":{"name":"q36"},"layer":[
  {"mark":{"type":"text","fontSize":18.5,"color":"black"},"encoding":{"x":{"field":"q","type":"ordinal","scale":{"type":"band","padding":0},"axis":{"orient":"top","offset":-1.5,"domainColor":"#a0a0a0","domainWidth":3,"ticks":false,"labels":false,"grid":true,"bandPosition":0,"gridColor":"#b0b0b0","gridWidth":2,"title":null}},"y":{"datum":"r1","type":"nominal","scale":{"type":"band","domain":["r1","r2"],"padding":0},"axis":{"grid":true,"values":["r2"],"bandPosition":0,"gridColor":"#b0b0b0","gridWidth":1.5,"domain":false,"ticks":false,"labels":false,"title":null}},"text":{"field":"m3h","type":"nominal"}}},
  {"mark":{"type":"text","fontSize":18.5,"fontWeight":"bold","color":"black"},"encoding":{"x":{"field":"q","type":"ordinal"},"y":{"datum":"r2","type":"nominal"},"text":{"field":"q","type":"nominal"}}}
 ]}
],"spacing":0,"bounds":"flush","resolve":{"scale":{"x":"independent","y":"independent"}}},
{"hconcat":[
 {"width":71,"height":221,"data":{"values":[]},"mark":"point"},
 {"width":147,"height":219,"data":{"name":"p36"},"mark":{"type":"text","align":"left","dx":7,"fontSize":18.5,"fontWeight":"bold","color":"black"},
  "encoding":{"x":{"datum":0,"type":"quantitative","scale":{"domain":[0,1]},"axis":{"orient":"top","offset":-1.5,"domainColor":"#a0a0a0","domainWidth":3,"ticks":false,"labels":false,"grid":false,"title":null}},
   "y":{"field":"t","type":"nominal","sort":null,"scale":{"type":"band","padding":0},"axis":{"grid":true,"bandPosition":1,"gridColor":"#a8a8a8","gridWidth":{"condition":{"test":"datum.value === '6SR 36/22'","value":3},"value":1.5},"domain":false,"ticks":false,"labels":false,"title":null}},
   "text":{"field":"t","type":"nominal"}}},
 {"width":142,"height":219,"data":{"name":"p36"},
  "encoding":{"y":{"field":"t","type":"nominal","sort":null,"scale":{"type":"band","padding":0},"axis":{"grid":true,"bandPosition":1,"gridColor":"#a8a8a8","gridWidth":{"condition":{"test":"datum.value === '6SR 36/22'","value":3},"value":1.5},"domain":false,"ticks":false,"labels":false,"title":null}}},
  "layer":[
   {"mark":{"type":"text","fontSize":18.5,"color":"black"},"encoding":{"x":{"datum":"kW","type":"nominal","scale":{"type":"band","domain":["kW","HP"],"padding":0},"axis":{"orient":"top","offset":-1.5,"domainColor":"#a0a0a0","domainWidth":3,"ticks":false,"labels":false,"grid":true,"values":["kW","HP"],"bandPosition":0,"gridColor":"#b0b0b0","gridWidth":2,"title":null}},"text":{"field":"kw","type":"nominal"}}},
   {"mark":{"type":"text","fontSize":18.5,"color":"black"},"encoding":{"x":{"datum":"HP","type":"nominal"},"text":{"field":"hp","type":"nominal"}}}
  ]},
 {"width":89,"height":219,"layer":[
  {"data":{"values":[{"s":"H"}]},"mark":{"type":"text","align":"left","dx":6,"dy":2,"fontSize":19,"fontWeight":"bold","color":"black"},"encoding":{"x":{"datum":0,"type":"quantitative","scale":{"domain":[0,1]},"axis":{"orient":"top","offset":-1.5,"domainColor":"#a0a0a0","domainWidth":3,"ticks":false,"labels":false,"grid":true,"values":[0],"gridColor":"#b0b0b0","gridWidth":2,"title":null}},"y":{"datum":"b","type":"nominal","scale":{"type":"band","domain":["b"],"padding":0},"axis":{"grid":true,"bandPosition":1,"gridColor":"#a8a8a8","gridWidth":3,"domain":false,"ticks":false,"labels":false,"title":null}},"text":{"field":"s","type":"nominal"}}},
  {"data":{"values":[{"s":"metres"}]},"mark":{"type":"text","align":"left","dx":23,"dy":2,"fontSize":19,"color":"black"},"encoding":{"x":{"datum":0,"type":"quantitative"},"y":{"datum":"b","type":"nominal"},"text":{"field":"s","type":"nominal"}}}
 ]},
 {"width":720,"height":219,"data":{"name":"c36"},"mark":{"type":"text","fontSize":18.5,"color":"black"},
  "encoding":{"x":{"field":"q","type":"ordinal","scale":{"type":"band","padding":0},"axis":{"orient":"top","offset":-1.5,"domainColor":"#a0a0a0","domainWidth":3,"ticks":false,"labels":false,"grid":true,"bandPosition":0,"gridColor":"#b0b0b0","gridWidth":2,"title":null}},
   "y":{"field":"t","type":"nominal","sort":null,"scale":{"type":"band","padding":0},"axis":{"grid":true,"bandPosition":1,"gridColor":"#a8a8a8","gridWidth":{"condition":{"test":"datum.value === '6SR 36/22'","value":3},"value":1.5},"domain":false,"ticks":false,"labels":false,"title":null}},
   "text":{"field":"h","type":"nominal"}}}
],"spacing":0,"bounds":"flush","resolve":{"scale":{"x":"independent","y":"independent"}}},
{"hconcat":[
 {"width":71,"height":24,"data":{"values":[]},"mark":"point"},
 {"width":549,"height":24,
  "encoding":{"x":{"datum":0,"type":"quantitative","scale":{"domain":[0,1]},"axis":null},"y":{"datum":0,"type":"quantitative","scale":{"domain":[0,1]},"axis":null},"text":{"field":"s","type":"nominal"}},
  "layer":[
   {"data":{"values":[{"s":"Q"}]},"mark":{"type":"text","align":"left","baseline":"alphabetic","dx":1,"dy":-3,"font":"Liberation Sans","fontSize":13.5,"fontWeight":"bold","color":"black"}},
   {"data":{"values":[{"s":"= Flow rate"}]},"mark":{"type":"text","align":"left","baseline":"alphabetic","dx":12,"dy":-3,"font":"Liberation Sans","fontSize":13.5,"color":"black"}},
   {"data":{"values":[{"s":"H"}]},"mark":{"type":"text","align":"left","baseline":"alphabetic","dx":86,"dy":-3,"font":"Liberation Sans","fontSize":13.5,"fontWeight":"bold","color":"black"}},
   {"data":{"values":[{"s":"= Total manometric head"}]},"mark":{"type":"text","align":"left","baseline":"alphabetic","dx":97,"dy":-3,"font":"Liberation Sans","fontSize":13.5,"color":"black"}}
  ]},
 {"width":549,"height":24,"data":{"values":[{"s":"Performance curves comply with EN ISO 9906 Grade 3B tolerance limits."}]},"mark":{"type":"text","align":"right","baseline":"alphabetic","dy":-3,"font":"Liberation Sans","fontSize":13.5,"color":"black"},"encoding":{"x":{"datum":1,"type":"quantitative","scale":{"domain":[0,1]},"axis":null},"y":{"datum":0,"type":"quantitative","scale":{"domain":[0,1]},"axis":null},"text":{"field":"s","type":"nominal"}}}
],"spacing":0,"bounds":"flush","resolve":{"scale":{"x":"independent","y":"independent"}}},
{"hconcat":[
 {"width":71,"height":37,"data":{"values":[]},"mark":"point"},
 {"width":60,"height":37,"data":{"values":[{"s":"50 Hz"}]},"mark":{"type":"text","align":"left","baseline":"alphabetic","dy":-4,"font":"Liberation Sans","fontSize":17,"color":"#222222"},"encoding":{"x":{"datum":0,"type":"quantitative","scale":{"domain":[0,1]},"axis":null},"y":{"datum":0,"type":"quantitative","scale":{"domain":[0,1]},"axis":null},"text":{"field":"s","type":"nominal"}}},
 {"width":24,"height":37,"data":{"values":[{"s":"|"}]},"mark":{"type":"text","align":"left","baseline":"alphabetic","dx":4,"dy":-4,"font":"Liberation Sans","fontSize":17,"color":"#aaaaaa"},"encoding":{"x":{"datum":0,"type":"quantitative","scale":{"domain":[0,1]},"axis":null},"y":{"datum":0,"type":"quantitative","scale":{"domain":[0,1]},"axis":null},"text":{"field":"s","type":"nominal"}}},
 {"width":100,"height":37,"data":{"values":[{"s":"6SR"}]},"mark":{"type":"text","align":"left","baseline":"alphabetic","dx":2,"dy":-4,"font":"Liberation Sans","fontSize":17,"color":"#222222"},"encoding":{"x":{"datum":0,"type":"quantitative","scale":{"domain":[0,1]},"axis":null},"y":{"datum":0,"type":"quantitative","scale":{"domain":[0,1]},"axis":null},"text":{"field":"s","type":"nominal"}}}
],"spacing":0,"bounds":"flush","resolve":{"scale":{"x":"independent","y":"independent"}}}
]
}
